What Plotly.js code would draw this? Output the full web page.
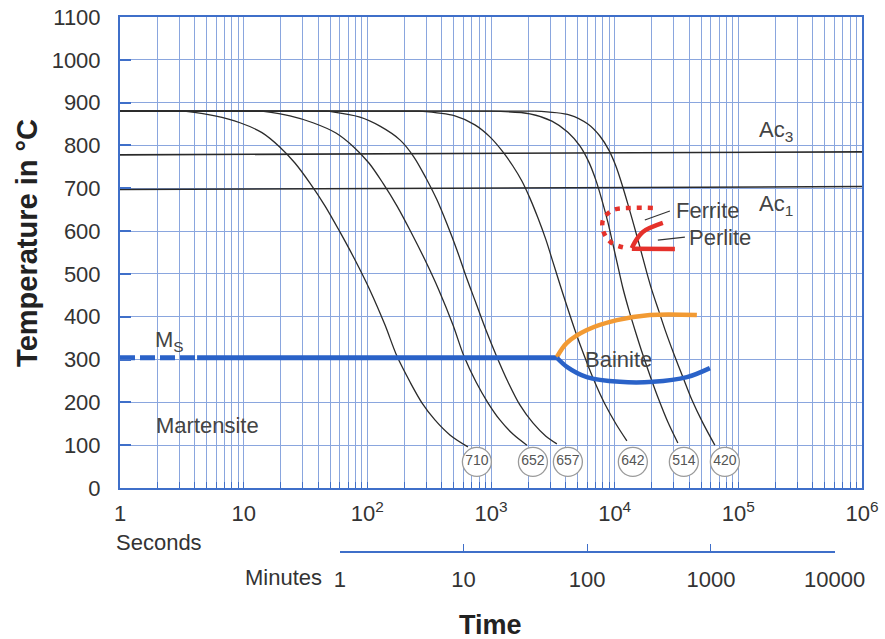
<!DOCTYPE html>
<html><head><meta charset="utf-8">
<script src="https://cdn.plot.ly/plotly-3.0.1.min.js"></script>
<style>html,body{margin:0;padding:0;background:#fff}#chart{width:885px;height:639px}</style>
</head><body><div id="chart"></div>
<script>
// ---------- data (time in seconds, temperature in °C) ----------
const hardness = ['710','652','657','642','514','420'];
// each cooling curve: holds 880 °C from t = 1 s, then cools
const c710_t = [1, 3.3, 5.86, 9.34, 14.06, 19.66, 25.98, 34.36, 45.43, 60.03, 79.38, 105.0, 138.8, 173.5, 221.0, 276.3, 352.0, 465.3, 650.6];
const c710_T = [880, 880, 869, 853, 830, 796, 759, 712, 659, 598, 533, 462, 381, 308, 248, 199, 159, 124, 96];
const c652_t = [1, 14, 23.67, 36.33, 55.75, 77.93, 103.0, 133.7, 173.5, 225.2, 292.2, 379.2, 492.0, 603.9, 755.2, 944.4, 1180, 1503, 1951];
const c652_T = [880, 880, 869, 853, 829, 796, 759, 712, 659, 598, 533, 462, 381, 308, 248, 199, 159, 126, 100];
const c657_t = [1, 48, 87.12, 126.5, 183.4, 238.1, 297.7, 365.4, 440.1, 530.0, 626.8, 755.2, 909.9, 1116, 1370, 1712, 2182, 2779, 3410];
const c657_T = [880, 880, 866, 845, 813, 773, 724, 673, 617, 556, 495, 432, 369, 306, 248, 194, 152, 121, 103];
const c642_t = [1, 266, 510.6, 741.3, 979.7, 1248, 1503, 1777, 2063, 2394, 2779, 3166, 3606, 4108, 4769, 5637, 6790, 8332, 10225, 12551];
const c642_T = [880, 880, 869, 848, 820, 785, 752, 717, 677, 631, 580, 528, 476, 425, 369, 311, 252, 196, 150, 110];
const c514_t = [1, 979.7, 2063, 3108, 4185, 5232, 6186, 7047, 7879, 8810, 9670, 10614, 11649, 13023, 14840, 16904, 19613, 22770, 26920, 32430];
const c514_T = [880, 880, 874, 857, 831, 799, 761, 719, 673, 621, 570, 518, 467, 416, 362, 311, 257, 206, 154, 105];
const c420_t = [1, 2264, 4343, 6072, 7592, 8976, 10225, 11434, 12787, 14297, 15989, 17874, 19983, 22770, 25940, 30110, 35590, 42090, 51640, 64570];
const c420_T = [880, 880, 871, 850, 822, 789, 752, 710, 663, 614, 563, 511, 462, 413, 364, 313, 259, 206, 152, 100];
const circle_t = [769, 2183, 4185, 14030, 36260, 77830];
const circle_T = [61, 61, 61, 61, 61, 61];

const ac3_t = [1, 1e6], ac3_T = [778, 785];
const ac1_t = [1, 1e6], ac1_T = [697, 704];

const msDash_t = [1, 4.2], msDash_T = [304, 304];
const msSolid_t = [4.2, 3412], msSolid_T = [304, 304];
const bainUpper_t = [3412, 4108, 5960, 10420, 19260, 46200];
const bainUpper_T = [306, 339, 369, 392, 404, 404];
const bainLower_t = [3412, 4108, 5960, 11010, 20370, 38350, 58880];
const bainLower_T = [304, 283, 259, 248, 248, 259, 280];

const ferrite_t = [20370, 13270, 9664, 8035, 8180, 9490, 12560];
const ferrite_T = [654, 654, 649, 626, 596, 572, 560];
const perliteArc_t = [24520, 16900, 14560, 13770];
const perliteArc_T = [619, 598, 574, 560];
const perliteBase_t = [13770, 30680];
const perliteBase_T = [559, 558];
const ferriteLeader_t = [17540, 27940], ferriteLeader_T = [626, 647];
const perliteLeader_t = [22350, 36960], perliteLeader_T = [579, 586];

const yTickVals = [0,100,200,300,400,500,600,700,800,900,1000,1100];
const decades = [1,10,100,1000,10000,100000,1000000];
const decadeLabels = ['1','10','10<sup>2</sup>','10<sup>3</sup>','10<sup>4</sup>','10<sup>5</sup>','10<sup>6</sup>'];
const minuteTicks = [1,10,100,1000,10000];
const minuteLabels = ['1','10','100','1000','10000'];

// ---------- styles ----------
const BLUE = '#3f6fc9', GRID = '#8aa6de', CURVE = '#2b2b2b';
const RED = '#e5312b', ORANGE = '#f29a33', MSBLUE = '#2a62c8', TXT = '#333333', LBL = '#444444';
const FONT = 'Liberation Sans, Arial, sans-serif';

// tick values: every 1..9 multiple inside each decade (gives the log grid)
const xTickVals = [], xTickText = [];
decades.forEach((d, i) => {
  if (i === decades.length - 1) { xTickVals.push(d); xTickText.push(decadeLabels[i]); return; }
  for (let m = 1; m <= 9; m++) { xTickVals.push(d*m); xTickText.push(m === 1 ? decadeLabels[i] : ''); }
});

const traces = [];
const line = (x, y, color, width, extra) => ({
  type:'scatter', mode:'lines', x, y, hoverinfo:'skip',
  line:Object.assign({color, width}, extra || {})
});
traces.push(line(ac3_t, ac3_T, '#2a2a2a', 1.6));
traces.push(line(ac1_t, ac1_T, '#2a2a2a', 1.6));
[[c710_t,c710_T],[c652_t,c652_T],[c657_t,c657_T],[c642_t,c642_T],[c514_t,c514_T],[c420_t,c420_T]]
  .forEach(([t,T]) => {
    traces.push(line(t.slice(0,2), T.slice(0,2), CURVE, 1.3));                       // hold at 880 °C
    traces.push(line(t.slice(1), T.slice(1), CURVE, 1.3, {shape:'spline', smoothing:0.9})); // cooling
  });
traces.push(line(msDash_t, msDash_T, MSBLUE, 5, {dash:'15px,5px'}));
traces.push(line(msSolid_t, msSolid_T, MSBLUE, 5));
traces.push(line(bainUpper_t, bainUpper_T, ORANGE, 4.5, {shape:'spline', smoothing:1}));
traces.push(line(bainLower_t, bainLower_T, MSBLUE, 4.5, {shape:'spline', smoothing:1}));
traces.push(line(ferrite_t, ferrite_T, RED, 4.5, {shape:'spline', smoothing:1, dash:'5px,6px'}));
traces.push(line(perliteArc_t, perliteArc_T, RED, 4.5, {shape:'spline', smoothing:1}));
traces.push(line(perliteBase_t, perliteBase_T, RED, 4.5));
traces.push(line(ferriteLeader_t, ferriteLeader_T, '#333', 1.2));
traces.push(line(perliteLeader_t, perliteLeader_T, '#333', 1.2));
traces.push({type:'scatter', mode:'markers+text', x:circle_t, y:circle_T, text:hardness,
  textposition:'middle center', textfont:{size:14, color:'#555', family:FONT},
  marker:{symbol:'circle', size:29, color:'#ffffff', line:{color:'#9a9a9a', width:1.3}},
  hoverinfo:'skip', cliponaxis:false});
// invisible trace that carries the minutes axis
traces.push({type:'scatter', mode:'markers', x:[1,10000], y:[0,0], xaxis:'x2', yaxis:'y2',
  marker:{opacity:0, size:1}, hoverinfo:'skip'});

const lg = Math.log10;
const ann = (text, x, y, opts) => Object.assign({text, x, y, xref:'x', yref:'y', showarrow:false,
  xanchor:'left', yanchor:'middle', font:{size:22, color:LBL}}, opts || {});

const layout = {
  width:885, height:639,
  margin:{l:120, r:23, t:17, b:88},
  paper_bgcolor:'#ffffff', plot_bgcolor:'rgba(0,0,0,0)',
  showlegend:false, hovermode:false,
  font:{family:FONT, color:TXT},
  xaxis:{type:'log', range:[0,6], tickvals:xTickVals, ticktext:xTickText, tickmode:'array',
    ticks:'inside', ticklen:6, tickcolor:BLUE, tickwidth:1,
    showgrid:true, gridcolor:GRID, gridwidth:1, showline:true, linecolor:BLUE, linewidth:2, mirror:true,
    tickfont:{size:22, color:TXT}, ticklabelstandoff:5, zeroline:false, anchor:'y', fixedrange:true},
  yaxis:{range:[0,1100], domain:[0.118,1], tickvals:yTickVals, tickmode:'array',
    ticks:'inside', ticklen:11, tickwidth:2, tickcolor:BLUE,
    showgrid:true, gridcolor:GRID, gridwidth:1, showline:true, linecolor:BLUE, linewidth:2, mirror:true,
    tickfont:{size:22, color:TXT}, ticklabelstandoff:13, zeroline:false, fixedrange:true},
  xaxis2:{type:'log', range:[0,4], domain:[lg(60)/6, lg(600000)/6], anchor:'y2',
    showline:true, linecolor:BLUE, linewidth:1.5, ticks:'inside', ticklen:7, tickcolor:BLUE, tickwidth:1.2,
    tickvals:minuteTicks, ticktext:minuteLabels, tickmode:'array', showgrid:false, zeroline:false,
    tickfont:{size:22, color:TXT}, ticklabelstandoff:8, fixedrange:true},
  yaxis2:{domain:[0,0.01], anchor:'x2', visible:false, showgrid:false, zeroline:false, range:[0,1], fixedrange:true},
  annotations:[
    ann('M<sub>S</sub>', lg(1.85), 344),
    ann('Martensite', lg(1.9), 147),
    ann('Bainite', lg(5500), 300),
    ann('Ferrite', lg(30000), 649),
    ann('Perlite', lg(38500), 584),
    ann('Ac<sub>3</sub>', lg(141000), 833),
    ann('Ac<sub>1</sub>', lg(141000), 662),
    {text:'Seconds', xref:'paper', yref:'paper', x:-0.008, y:0.015, xanchor:'left', yanchor:'middle',
      showarrow:false, font:{size:22, color:TXT}},
    {text:'Minutes', xref:'paper', yref:'paper', x:0.275, y:-0.049, xanchor:'right', yanchor:'middle',
      showarrow:false, font:{size:22, color:TXT}},
    {text:'<b>Time</b>', xref:'paper', yref:'paper', x:0.4987, y:-0.139, xanchor:'center', yanchor:'middle',
      showarrow:false, font:{size:27, color:'#222'}},
    {text:'<b>Temperature in °C</b>', xref:'paper', yref:'paper', x:-0.1253, y:0.577, xanchor:'center', yanchor:'middle',
      textangle:-90, showarrow:false, font:{size:29, color:'#222'}}
  ]
};

Plotly.newPlot('chart', traces, layout, {staticPlot:true, displayModeBar:false});
</script></body></html>
